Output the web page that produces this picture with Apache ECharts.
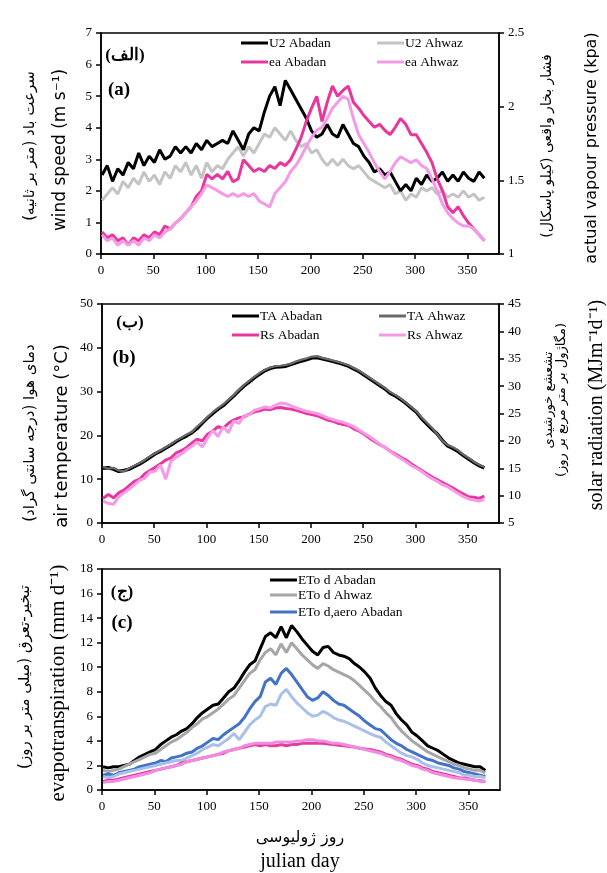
<!DOCTYPE html>
<html>
<head>
<meta charset="utf-8">
<script src="https://cdn.jsdelivr.net/npm/echarts@6/dist/echarts.min.js"></script>
<style>html,body{margin:0;padding:0;background:#fff}#c{width:607px;height:873px}</style>
</head>
<body>
<div id="c"></div>
<script>
// Julian day sample points
const days = [1,6,11,16,21,26,31,36,41,46,51,56,61,66,71,76,81,86,91,96,101,106,111,116,121,126,131,136,141,146,151,156,161,166,171,176,181,186,191,196,201,206,211,216,221,226,231,236,241,246,251,256,261,266,271,276,281,286,291,296,301,306,311,316,321,326,331,336,341,346,351,356,361,366];
const xTicks = [0,50,100,150,200,250,300,350];

// Panel (a): wind speed (m s-1)
const u2Abadan = [2.5,2.8,2.3,2.7,2.5,2.9,2.7,3.2,2.8,3.1,2.9,3.3,3.0,3.1,3.4,3.2,3.4,3.2,3.5,3.3,3.6,3.4,3.5,3.6,3.5,3.9,3.6,3.3,3.8,4.0,3.9,4.5,5.0,5.3,4.7,5.5,5.2,4.9,4.6,4.3,3.9,3.7,3.8,4.1,3.8,3.7,4.1,3.8,3.5,3.4,3.1,2.9,2.6,2.7,2.5,2.6,2.3,2.0,2.2,2.0,2.4,2.2,2.5,2.3,2.4,2.6,2.3,2.5,2.3,2.6,2.4,2.3,2.6,2.4];
const u2Ahwaz = [1.7,1.9,2.1,1.9,2.3,2.1,2.4,2.2,2.6,2.3,2.5,2.2,2.6,2.4,2.8,2.6,2.9,2.5,2.8,2.4,2.9,2.6,2.8,2.7,3.0,3.2,3.4,3.1,3.4,3.2,3.5,3.8,3.7,4.0,3.8,3.6,3.9,3.6,3.4,3.5,3.2,3.3,3.0,2.8,3.0,2.8,3.0,2.8,2.7,2.8,2.6,2.4,2.3,2.2,2.1,2.2,1.9,2.0,1.7,1.9,1.8,2.1,2.0,2.1,1.9,2.0,1.8,1.9,1.8,2.0,1.8,1.9,1.7,1.8];
// Panel (a): actual vapour pressure (kPa)
const eaAbadan = [1.15,1.11,1.13,1.09,1.11,1.06,1.11,1.09,1.13,1.11,1.15,1.13,1.19,1.17,1.21,1.24,1.28,1.32,1.39,1.43,1.54,1.51,1.54,1.51,1.56,1.49,1.51,1.64,1.60,1.56,1.58,1.56,1.60,1.58,1.62,1.60,1.64,1.71,1.79,1.90,1.99,2.07,1.90,2.03,2.14,2.07,2.11,2.14,2.03,1.99,1.94,1.90,1.86,1.88,1.84,1.81,1.86,1.92,1.88,1.81,1.81,1.75,1.69,1.62,1.51,1.43,1.32,1.28,1.32,1.26,1.21,1.17,1.13,1.09];
const eaAhwaz = [1.13,1.09,1.11,1.06,1.09,1.06,1.09,1.06,1.11,1.09,1.13,1.11,1.15,1.17,1.21,1.24,1.28,1.32,1.36,1.41,1.47,1.45,1.43,1.41,1.39,1.41,1.39,1.41,1.39,1.41,1.36,1.34,1.32,1.41,1.45,1.49,1.56,1.60,1.66,1.73,1.79,1.84,1.86,1.92,1.99,2.03,2.07,2.05,1.92,1.81,1.75,1.69,1.62,1.56,1.51,1.56,1.62,1.66,1.64,1.62,1.64,1.60,1.58,1.51,1.43,1.34,1.28,1.24,1.21,1.19,1.19,1.17,1.13,1.09];

// Panel (b): air temperature (°C)
const taAbadan = [12.5,12.6,12.3,11.8,12.0,12.3,12.9,13.5,14.2,15.0,15.8,16.4,17.1,17.8,18.6,19.3,19.9,20.6,21.6,22.8,24.0,25.0,26.0,26.8,27.9,29.0,30.2,31.3,32.2,33.2,34.0,34.8,35.3,35.6,35.7,35.8,36.2,36.6,37.0,37.3,37.7,37.8,37.5,37.2,36.9,36.6,36.2,35.8,35.2,34.6,33.8,33.0,32.2,31.4,30.6,29.6,29.0,28.2,27.3,26.3,25.3,23.8,22.6,21.4,20.3,18.8,17.6,17.0,16.3,15.4,14.6,13.8,13.1,12.6];
const taAhwaz = [12.8,12.4,12.6,12.0,11.8,12.5,13.1,13.7,14.4,15.2,15.9,16.6,17.3,18.0,18.8,19.5,20.2,20.8,22.0,23.0,24.2,25.3,26.2,27.1,28.1,29.2,30.4,31.5,32.5,33.4,34.3,35.0,35.5,35.8,35.9,36.1,36.4,36.9,37.3,37.6,38.0,38.1,37.7,37.4,37.1,36.8,36.4,36.0,35.4,34.8,34.0,33.2,32.4,31.6,30.8,29.9,29.2,28.4,27.5,26.5,25.5,24.1,22.9,21.7,20.2,18.7,17.8,17.3,16.6,15.6,14.8,14.0,13.3,12.8];
// Panel (b): solar radiation (MJ m-2 d-1)
const rsAbadan = [9.5,10.2,9.6,10.5,11.0,11.8,12.6,13.0,14.0,14.6,15.2,15.8,16.5,16.9,17.8,18.2,18.8,19.6,20.3,20.0,21.2,21.8,22.6,22.3,23.2,23.8,24.2,24.4,24.9,25.3,25.5,25.8,25.7,26.0,26.1,25.9,25.8,25.6,25.3,25.0,24.8,24.6,24.2,23.8,23.6,23.2,23.0,22.8,22.2,21.8,21.2,20.5,19.9,19.3,18.8,18.1,17.6,17.0,16.5,15.8,15.2,14.6,14.0,13.4,12.9,12.4,11.9,11.4,10.8,10.3,9.8,9.7,9.5,9.9];
const rsAhwaz = [9.0,8.6,8.4,9.8,10.5,11.2,12.0,12.8,13.2,14.3,14.5,15.6,13.0,16.3,17.0,17.6,18.4,19.0,19.8,18.9,20.5,21.9,20.8,22.6,21.5,23.6,23.2,24.6,24.8,25.6,25.9,26.2,26.0,26.5,26.9,26.8,26.4,26.0,25.7,25.4,25.2,25.0,24.6,24.2,23.9,23.6,23.4,23.0,22.6,22.0,21.4,20.8,20.1,19.4,18.8,18.0,17.4,16.8,16.2,15.5,15.0,14.4,13.7,13.1,12.6,12.0,11.6,11.0,10.4,9.8,9.4,9.2,9.0,9.3];

// Panel (c): evapotranspiration (mm d-1)
const etoAbadan = [1.9,1.8,1.9,1.9,2.0,2.1,2.4,2.7,2.9,3.1,3.3,3.7,4.0,4.3,4.5,4.8,5.0,5.4,5.9,6.3,6.6,6.9,7.0,7.5,8.0,8.3,8.9,9.6,10.2,10.5,11.5,12.5,12.8,12.4,13.3,12.4,13.4,12.9,12.3,11.8,11.3,11.0,11.6,11.7,11.2,11.0,10.9,10.7,10.3,10.0,9.6,9.1,8.3,7.7,7.2,6.9,6.2,5.7,5.3,4.7,4.4,4.0,3.6,3.4,3.2,2.9,2.6,2.4,2.2,2.1,2.0,1.9,1.9,1.6];
const etoAhwaz = [1.6,1.5,1.6,1.7,1.9,2.1,2.3,2.5,2.7,2.9,3.0,3.3,3.6,3.9,4.1,4.4,4.7,5.1,5.4,5.8,6.0,6.3,6.6,7.0,7.4,7.7,8.3,8.9,9.5,9.8,10.6,11.2,11.5,11.0,11.9,11.2,12.0,11.5,11.0,10.6,10.2,9.9,10.3,10.1,9.8,9.6,9.4,9.2,8.9,8.5,8.1,7.7,7.2,6.8,6.3,5.9,5.3,4.8,4.4,4.0,3.7,3.4,3.1,2.9,2.7,2.5,2.3,2.1,2.0,1.8,1.7,1.6,1.6,1.4];
const etoAeroAbadan = [1.2,1.3,1.2,1.4,1.5,1.6,1.7,1.9,2.0,2.1,2.2,2.4,2.3,2.6,2.7,2.8,3.0,3.1,3.4,3.6,3.9,4.2,4.1,4.5,4.8,5.1,5.4,5.9,6.6,7.2,7.6,8.8,9.1,8.6,9.5,9.9,9.4,8.8,8.2,7.6,7.3,7.5,8.0,7.7,7.3,7.0,6.9,6.6,6.3,6.0,5.6,5.3,5.0,4.9,4.5,4.1,3.8,3.6,3.3,3.1,2.9,2.7,2.5,2.4,2.2,2.1,2.0,1.8,1.7,1.5,1.4,1.3,1.2,1.1];
const etoAeroAhwaz = [1.1,1.0,1.1,1.3,1.4,1.5,1.6,1.7,1.8,1.9,2.0,2.1,2.2,2.3,2.4,2.4,2.6,2.8,3.0,3.3,3.5,3.7,3.6,3.9,4.2,4.6,4.1,4.7,5.3,5.7,6.0,6.8,7.0,6.9,7.8,8.2,7.6,7.1,6.7,6.3,6.0,6.1,6.4,6.2,5.9,5.7,5.6,5.4,5.2,5.0,4.8,4.6,4.4,4.3,3.9,3.6,3.3,3.0,2.8,2.7,2.5,2.2,2.0,1.9,1.8,1.7,1.6,1.5,1.4,1.2,1.2,1.1,1.1,1.0];
const etoRadAbadan = [0.7,0.8,0.8,0.9,1.0,1.1,1.2,1.3,1.4,1.5,1.6,1.7,1.8,1.9,2.0,2.2,2.3,2.4,2.5,2.6,2.7,2.8,2.9,3.0,3.2,3.3,3.4,3.5,3.6,3.7,3.6,3.7,3.6,3.6,3.7,3.6,3.7,3.7,3.8,3.8,3.8,3.8,3.8,3.75,3.7,3.65,3.6,3.55,3.5,3.4,3.35,3.3,3.2,3.1,2.9,2.8,2.6,2.5,2.3,2.1,2.0,1.8,1.7,1.5,1.4,1.3,1.2,1.1,1.0,0.95,0.9,0.8,0.75,0.7];
const etoRadAhwaz = [0.6,0.7,0.7,0.8,0.9,1.0,1.1,1.2,1.3,1.4,1.6,1.7,1.8,1.9,2.0,2.1,2.3,2.4,2.5,2.6,2.7,2.8,2.9,3.1,3.2,3.3,3.4,3.6,3.7,3.8,3.8,3.8,3.8,3.9,3.9,3.9,3.9,4.0,4.0,4.1,4.1,4.0,4.0,3.9,3.8,3.8,3.7,3.6,3.5,3.4,3.3,3.2,3.1,3.0,2.8,2.7,2.5,2.4,2.2,2.0,1.9,1.7,1.6,1.4,1.3,1.2,1.1,1.0,0.95,0.9,0.85,0.8,0.7,0.7];

const SERIF = '"Liberation Serif", "Times New Roman", serif';
const SANS = '"DejaVu Sans", sans-serif';
const tickFont = {fontFamily: SERIF, fontSize: 13, color: '#000'};

const grids = [
  {left: 101, right: 108, top: 33, height: 221},
  {left: 102, right: 108, top: 304, height: 219},
  {left: 102, right: 107, top: 569, height: 221}
].map(g => Object.assign(g, {show: true, borderColor: '#000', borderWidth: 1.5, backgroundColor: 'transparent'}));

function xAx(i) {
  return {
    type: 'value', gridIndex: i, min: 0, max: 380, interval: 50,
    axisLine: {show: true, lineStyle: {color: '#000', width: 1.5}},
    axisTick: {show: true, length: 5, lineStyle: {color: '#000', width: 1.5}},
    axisLabel: Object.assign({margin: 10, showMaxLabel: false}, tickFont),
    splitLine: {show: false}
  };
}
function yAx(i, min, max, interval, pos) {
  return {
    type: 'value', gridIndex: i, min: min, max: max, interval: interval, position: pos,
    axisLine: {show: true, lineStyle: {color: '#000', width: 1.5}},
    axisTick: {show: true, length: 5, lineStyle: {color: '#000', width: 1.5}},
    axisLabel: Object.assign({margin: 9}, tickFont),
    splitLine: {show: false}
  };
}
function ser(name, vals, color, xi, yi, w) {
  return {
    type: 'line', name: name, xAxisIndex: xi, yAxisIndex: yi,
    data: days.map((d, k) => [d, vals[k]]),
    showSymbol: false, symbol: 'none', smooth: false,
    lineStyle: {color: color, width: w || 3},
    itemStyle: {color: color},
    emphasis: {disabled: true}
  };
}
function leg(name, left, top) {
  return {
    data: [name], left: left, top: top, padding: 0, itemGap: 0,
    icon: 'rect', itemWidth: 27, itemHeight: 3,
    textStyle: {fontFamily: SERIF, fontSize: 13.5, color: '#000', padding: [0, 0, 0, -4]}
  };
}
function txt(x, y, text, font, rot) {
  return {
    type: 'text', x: x, y: y, rotation: rot ? Math.PI / 2 : 0,
    style: {text: text, font: font, fill: '#000', align: 'center', verticalAlign: 'middle'}
  };
}

const C = {
  black: '#000000', lgray: '#c4c4c4', mag: '#e8369e', lpink: '#f49ae6',
  dgray: '#6a6a6a', gray: '#a6a6a6', blue: '#4472c4', lblue: '#a9c1e8', mag2: '#e0409a', pink2: '#f28ae2'
};

const option = {
  animation: false,
  backgroundColor: '#fff',
  grid: grids,
  xAxis: [xAx(0), xAx(1), xAx(2)],
  yAxis: [
    yAx(0, 0, 7, 1, 'left'),
    yAx(0, 1, 2.5, 0.5, 'right'),
    yAx(1, 0, 50, 10, 'left'),
    yAx(1, 5, 45, 5, 'right'),
    yAx(2, 0, 18, 2, 'left')
  ],
  legend: [
    leg('U2 Abadan', 241, 36), leg('U2 Ahwaz', 377, 36),
    leg('ea Abadan', 241, 55), leg('ea Ahwaz', 377, 55),
    leg('TA Abadan', 232, 309), leg('TA Ahwaz', 379, 309),
    leg('Rs Abadan', 232, 328), leg('Rs Ahwaz', 379, 328),
    leg('ETo d Abadan', 270, 573), leg('ETo d Ahwaz', 270, 588), leg('ETo d,aero Abadan', 270, 605)
  ],
  series: [
    ser('U2 Ahwaz', u2Ahwaz, C.lgray, 0, 0),
    ser('U2 Abadan', u2Abadan, C.black, 0, 0),
    ser('ea Abadan', eaAbadan, C.mag, 0, 1),
    ser('ea Ahwaz', eaAhwaz, C.lpink, 0, 1),
    ser('TA Abadan', taAbadan, C.black, 1, 2, 3.5),
    ser('TA Ahwaz', taAhwaz, C.dgray, 1, 2, 2.2),
    ser('Rs Abadan', rsAbadan, C.mag, 1, 3),
    ser('Rs Ahwaz', rsAhwaz, C.lpink, 1, 3),
    ser('ETo d Abadan', etoAbadan, C.black, 2, 4),
    ser('ETo d Ahwaz', etoAhwaz, C.gray, 2, 4),
    ser('ETo d,aero Abadan', etoAeroAbadan, C.blue, 2, 4),
    ser('ETo d,aero Ahwaz', etoAeroAhwaz, C.lblue, 2, 4),
    ser('ETo d,rad Abadan', etoRadAbadan, C.mag2, 2, 4),
    ser('ETo d,rad Ahwaz', etoRadAhwaz, C.pink2, 2, 4)
  ],
  graphic: [
    // panel labels
    txt(125, 56, '(الف)', 'bold 17px ' + SERIF),
    txt(119, 90, '(a)', 'bold 19px ' + SERIF),
    txt(130, 323, '(ب)', 'bold 17px ' + SERIF),
    txt(124, 358, '(b)', 'bold 19px ' + SERIF),
    txt(122, 593, '(ج)', 'bold 17px ' + SERIF),
    txt(122, 623, '(c)', 'bold 19px ' + SERIF),
    // panel (a) axis titles
    txt(30, 146, 'سرعت باد (متر بر ثانیه)', '15px ' + SANS, true),
    txt(61, 150, 'wind speed (m s⁻¹)', '17px ' + SANS, true),
    txt(547, 146, 'فشار بخار واقعی (کیلو پاسکال)', '14px ' + SANS, true),
    txt(592, 148, 'actual vapour pressure (kpa)', '16px ' + SANS, true),
    // panel (b) axis titles
    txt(30, 433, 'دمای هوا (درجه سانتی گراد)', '15px ' + SANS, true),
    txt(62, 436, 'air temperature (°C)', '18px ' + SANS, true),
    txt(555, 400, 'تشعشع خورشیدی\n(مگاژول بر متر مربع بر روز)', '13px ' + SANS, true),
    txt(597, 405, 'solar radiation (MJm⁻¹d⁻¹)', '20px ' + SERIF, true),
    // panel (c) axis titles
    txt(25, 677, 'تبخیر-تعرق (میلی متر بر روز)', '15px ' + SANS, true),
    txt(58, 683, 'evapotranspiration (mm d⁻¹)', '21px ' + SERIF, true),
    // x-axis title
    txt(300, 838, 'روز ژولیوسی', '16px ' + SANS),
    txt(300, 862, 'julian day', '20px ' + SERIF)
  ]
};

const chart = echarts.init(document.getElementById('c'), null, {renderer: 'canvas'});
chart.setOption(option);
</script>
</body>
</html>
